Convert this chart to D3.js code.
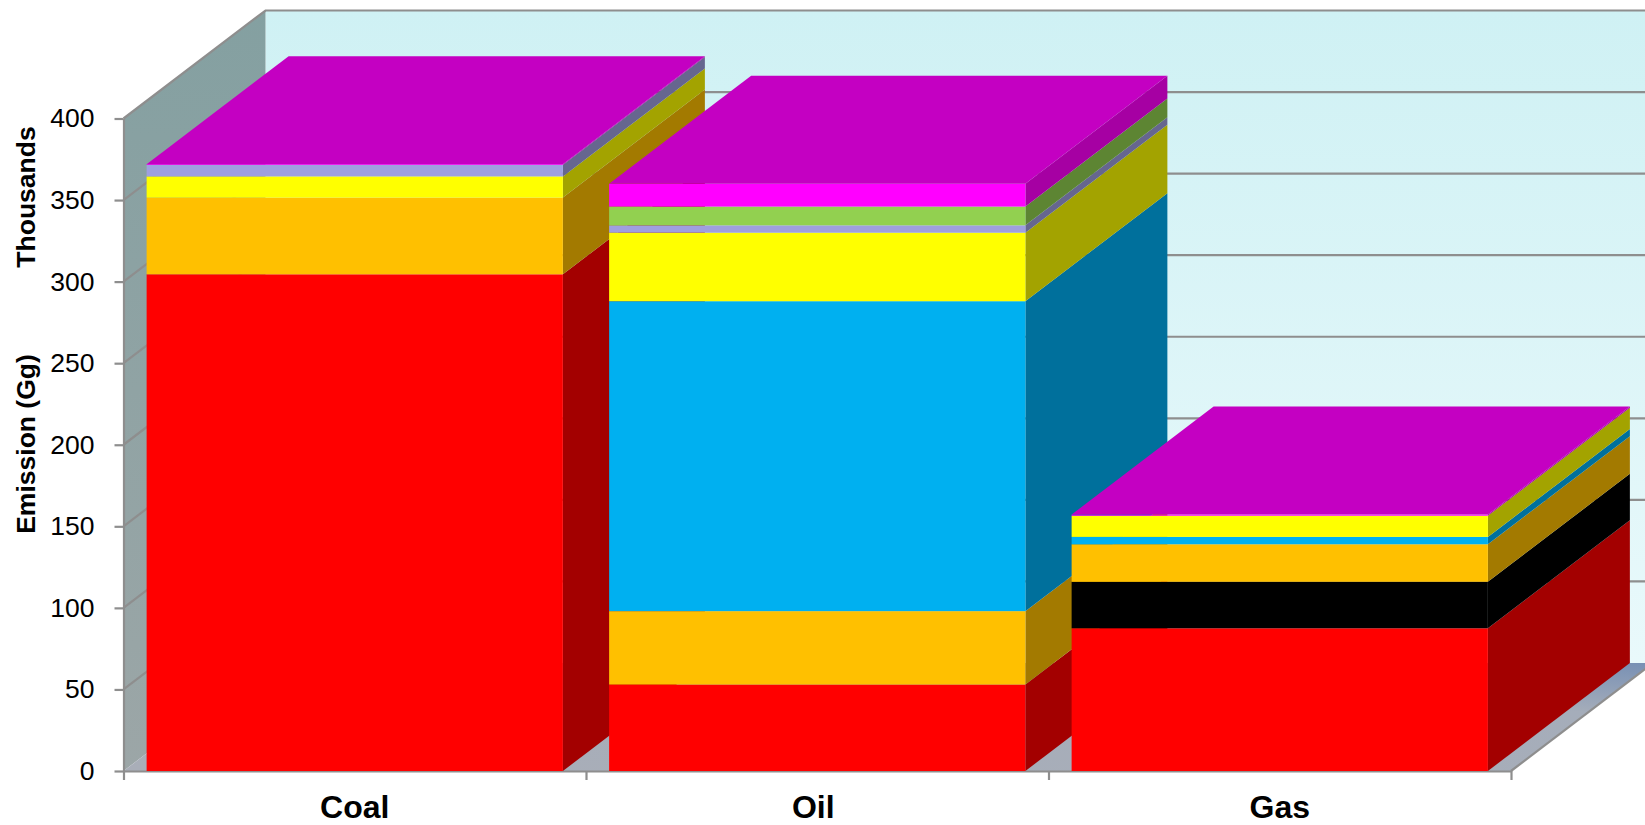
<!DOCTYPE html>
<html>
<head>
<meta charset="utf-8">
<title>Emission by fuel</title>
<script src="https://cdn.jsdelivr.net/npm/d3@7"></script>
<style>
  html, body { margin: 0; padding: 0; background: #fff; overflow: hidden; }
  svg { display: block; font-family: "Liberation Sans", Arial, sans-serif; }
</style>
</head>
<body>
<svg id="chart" width="1645" height="825"></svg>
<script>
// Fuel categories along the horizontal axis
const fuels = ["Coal", "Oil", "Gas"];

// Stacked layers, bottom to top; one value per fuel, in Gg (thousands)
const layerRed      = [304.5, 53, 87.5];
const layerBlack    = [0, 0, 28.5];
const layerOrange   = [47, 45, 23];
const layerBlue     = [0, 190, 4.5];
const layerYellow   = [13, 42, 13];
const layerLavender = [7, 4.5, 0];
const layerGreen    = [0, 11.5, 0];
const layerMagenta  = [0.5, 14, 0.7];

const layers = [layerRed, layerBlack, layerOrange, layerBlue, layerYellow, layerLavender, layerGreen, layerMagenta];

const frontColors = ["#ff0000", "#000000", "#ffc000", "#00b0f0", "#ffff00", "#9f9fdf", "#92d050", "#ff00ff"];
const sideColors  = ["#a30000", "#000000", "#a37a00", "#00709c", "#a3a300", "#66668f", "#5d8533", "#a600a3"];
const topColor = "#c400c2";

const yTicks = [0, 50, 100, 150, 200, 250, 300, 350, 400];
const yTitleLower = "Emission (Gg)";
const yTitleUpper = "Thousands";

// Oblique projection: how far the depth axis shifts a point
const depthX = 142;
const depthY = 108;

const plotLeft = 123.5, plotRight = 1511, plotBottom = 771, plotTop = 118.5;

const svg = d3.select("#chart");

const x = d3.scaleBand().domain(fuels).range([plotLeft, plotRight]).paddingInner(0.1).paddingOuter(0.05);
const xEdges = d3.scaleLinear().domain([0, fuels.length]).range([plotLeft, plotRight]);
const y = d3.scaleLinear().domain([0, 400]).range([plotBottom, plotTop]);

const poly = pts => pts.map(p => p.join(",")).join(" ");

// Gradients for the walls and floor
const defs = svg.append("defs");
function gradient(id, x1, y1, x2, y2, stops) {
  const g = defs.append("linearGradient").attr("id", id)
    .attr("x1", x1).attr("y1", y1).attr("x2", x2).attr("y2", y2);
  stops.forEach(([o, c]) => g.append("stop").attr("offset", o).attr("stop-color", c));
}
gradient("backWall", 0, 0, 0, 1, [[0, "#cff1f4"], [1, "#e9f9fb"]]);
gradient("sideWall", 0, 0, 0, 1, [[0, "#84a0a1"], [1, "#9ca6a7"]]);
gradient("floorPlane", 0, 1, 1, 0, [[0, "#a9aeb8"], [0.75, "#a5adba"], [1, "#7890b4"]]);

const grey = "#8e8e8e";
const backRight = plotRight + depthX;

// Back wall, side wall and floor of the box
svg.append("polygon").attr("fill", "url(#backWall)")
  .attr("points", poly([[plotLeft + depthX, plotTop - depthY], [backRight, plotTop - depthY], [backRight, plotBottom - depthY], [plotLeft + depthX, plotBottom - depthY]]));
svg.append("polygon").attr("fill", "url(#sideWall)")
  .attr("points", poly([[plotLeft, plotTop], [plotLeft + depthX, plotTop - depthY], [plotLeft + depthX, plotBottom - depthY], [plotLeft, plotBottom]]));
svg.append("polygon").attr("fill", "url(#floorPlane)")
  .attr("points", poly([[plotLeft, plotBottom], [plotRight, plotBottom], [backRight, plotBottom - depthY], [plotLeft + depthX, plotBottom - depthY]]));

// Gridlines wrapping the side wall and back wall
svg.append("g").selectAll("polyline").data(yTicks.slice(1)).join("polyline")
  .attr("fill", "none").attr("stroke", grey).attr("stroke-width", 2.2)
  .attr("points", d => poly([[plotLeft, y(d)], [plotLeft + depthX, y(d) - depthY], [backRight, y(d) - depthY]]));

// Outer edge of the floor on the right
svg.append("line").attr("stroke", grey).attr("stroke-width", 2.2)
  .attr("x1", plotRight).attr("y1", plotBottom).attr("x2", backRight).attr("y2", plotBottom - depthY);

// Axes
const yAxis = svg.append("g").attr("transform", `translate(${plotLeft},0)`)
  .call(d3.axisLeft(y).tickValues(yTicks).tickSize(9).tickPadding(20).tickSizeOuter(0));
yAxis.selectAll("path, line").attr("stroke", grey).attr("stroke-width", 2.2);
yAxis.selectAll("text").attr("font-size", 26.5).attr("fill", "#000").attr("font-family", "Liberation Sans");

const xAxis = svg.append("g").attr("transform", `translate(0,${plotBottom})`)
  .call(d3.axisBottom(xEdges).tickValues(d3.range(fuels.length + 1)).tickSize(9).tickFormat("").tickSizeOuter(0));
xAxis.selectAll("path, line").attr("stroke", grey).attr("stroke-width", 2.2);

// Bars are painted left to right so each hides the side of the previous one
const bars = svg.append("g").selectAll("g").data(fuels).join("g");

bars.each(function (fuel, i) {
  const bar = d3.select(this);
  const x0 = x(fuel);
  const x1 = x0 + x.bandwidth();
  let base = 0;
  layers.forEach((values, s) => {
    const v = values[i];
    if (!v) return;
    const yLow = y(base), yHigh = y(base + v);
    bar.append("polygon").attr("fill", sideColors[s])
      .attr("points", poly([[x1, yLow], [x1 + depthX, yLow - depthY], [x1 + depthX, yHigh - depthY], [x1, yHigh]]));
    bar.append("rect").attr("fill", frontColors[s])
      .attr("x", x0).attr("y", yHigh).attr("width", x1 - x0).attr("height", yLow - yHigh);
    base += v;
  });
  const yTop = y(base);
  bar.append("polygon").attr("fill", topColor)
    .attr("points", poly([[x0, yTop], [x1, yTop], [x1 + depthX, yTop - depthY], [x0 + depthX, yTop - depthY]]));
});

// Category labels
svg.append("g").selectAll("text").data(fuels).join("text")
  .attr("x", d => x(d) + x.bandwidth() / 2 + (d === "Oil" ? -4 : 0))
  .attr("y", 817.5)
  .attr("text-anchor", "middle").attr("font-size", 32).attr("font-weight", "bold").attr("fill", "#000")
  .text(d => d);

// Vertical axis titles
const axisTitle = (text, cy) => svg.append("text")
  .attr("transform", `translate(35,${cy}) rotate(-90)`)
  .attr("text-anchor", "middle").attr("font-size", 26.5).attr("font-weight", "bold").attr("fill", "#000")
  .text(text);
axisTitle(yTitleLower, 444);
axisTitle(yTitleUpper, 197);
</script>
</body>
</html>
